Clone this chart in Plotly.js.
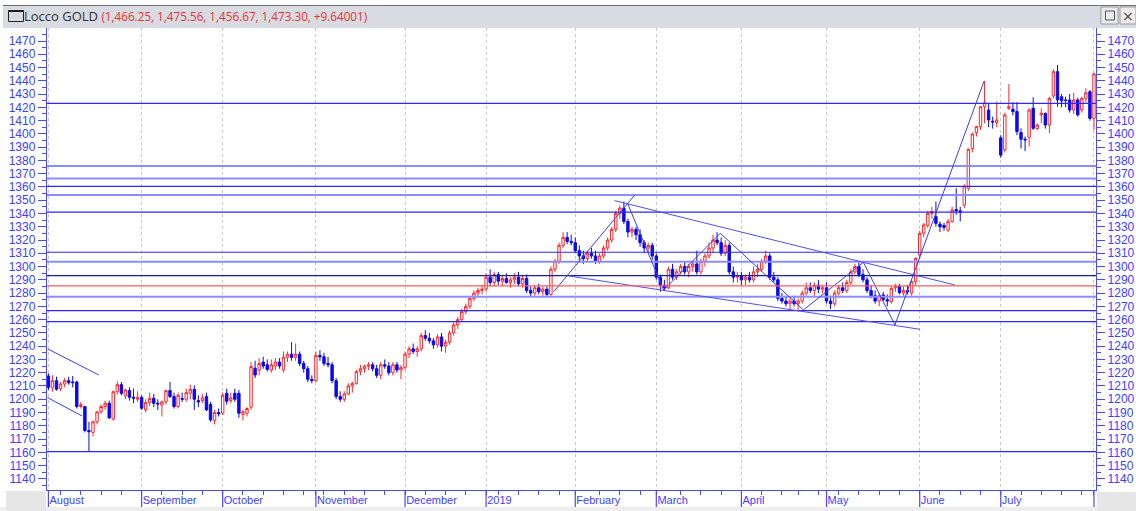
<!DOCTYPE html>
<html><head><meta charset="utf-8">
<script src="https://cdn.plot.ly/plotly-3.0.1.min.js"></script>
<style>html,body{margin:0;padding:0;background:#fff;overflow:hidden}#chart{width:1136px;height:511px}</style>
</head><body><div id="chart"></div>
<script>
// Daily OHLC, Aug 1 2018 .. Aug 1 2019 (trading days)
const open = [
1217.5,1209,1214,1208,1211.5,1214,1213,1213,1194.5,1194.5,1176.5,1175,1183,1190.5,1194.5,1197,1185,1205.7,1211,1202.5,1206.5,1201.5,1200,
1201.5,1192,1197.5,1200.7,1197,1195.7,1198,1206.5,1202,1194.5,1200.5,1200,1204.5,1207.5,1199,1199,1202,1196,1184,1190,
1189.5,1204.5,1199,1204.5,1204.5,1188.5,1189.5,1194,1223.3,1222,1228,1226,1222,1225,1228,1222,1231.6,1234,1231.5,1234,1227,1223,1215,
1214,1233,1232,1227,1226,1214,1202,1200,1204,1210,1212,1221,1223,1225,1226,1223,1218,1226,1225,1220,1226,1222,
1224,1234,1238,1236,1238,1248,1246,1244,1241,1247,1240,1243,1250,1256,1260,1266,1270,1276,1280,1282,
1283,1292,1288,1294,1289,1291,1288,1290,1292,1287,1291,1282,1280,1284,1281,1283,1279,1298,1304,1316,1322,1319,
1318,1312,1308,1306,1310,1308,1304,1308,1314,1320,1328,1340,1344,1334,1326,1328,1324,1318,1314,1316,
1308,1292,1286,1284,1298,1292,1296,1300,1296,1300,1302,1296,1304,1308,1314,1320,1318,1310,1316,1296,1292,
1293,1290,1292,1290,1296,1298,1304,1308,1292,1290,1276,1274,1272,1274,1272,1274,1280,1284,1282,1286,1283,
1284,1274,1272,1280,1284,1282,1288,1296,1300,1294,1290,1282,1278,1274,1278.6,1275,1273.5,1284,1285,1280,1282,1280,1288.6,
1308.7,1325.1,1331,1340,1337.6,1332,1331,1327.6,1334,1343,1342,1346.4,1359,1389,1401,1405.5,1420.5,1418,1409.5,1408.5,
1397,1388,1419.3,1418.5,1416.8,1401,1396,1397.4,1419.3,1404,1414.3,1415.5,1406.7,1428.6,1446.9,1428,1425.6,1425.6,1418,1425.6,1418,1426.8,1431.8,
1411.7];
const high = [
1219.5,1218,1217,1213,1216,1217,1217.5,1214,1198,1195,1183,1184,1191,1196,1199,1199,1206.5,1213.5,1213,1208,1209,1208,1206,
1203,1200,1205,1204,1200,1199,1206,1213,1205,1205,1205,1208,1211,1210.5,1203,1204,1205,1198,1192,1193,
1205,1208,1205,1208,1207,1192,1194,1228,1229,1231,1232,1230,1230,1231,1231,1236,1236,1243,1242,1236,1229,1225,1218,
1236,1237,1235,1232,1228,1216,1206,1206,1212,1213,1222,1226,1226,1228,1228,1226,1228,1230,1228,1228,1228,1226,
1236,1240,1242,1240,1250,1252,1250,1246,1249,1250,1245,1252,1258,1262,1268,1272,1278,1282,1284,1286,
1295,1298,1296,1296,1294,1295,1292,1295,1296,1293,1294,1285,1286,1287,1285,1285,1300,1306,1318,1326,1326,1324,
1322,1316,1312,1312,1314,1312,1310,1316,1322,1330,1342,1346,1349,1336,1330,1330,1328,1320,1318,1318,
1310,1294,1290,1300,1302,1298,1302,1304,1302,1304,1312,1306,1310,1318,1324,1326,1322,1320,1318,1300,1296,
1296,1294,1296,1300,1302,1306,1312,1310,1296,1292,1280,1278,1276,1278,1276,1282,1288,1288,1288,1290,1286,
1288,1278,1282,1286,1288,1290,1298,1302,1304,1298,1292,1286,1282,1280,1281,1279,1285,1287,1287,1285,1286,1290,1307,
1327,1333,1342,1345,1349,1334,1333,1336,1345,1359,1345,1362,1389,1401,1406,1421,1439.9,1423,1413,1424.3,
1399,1416,1437.6,1424,1424,1404.2,1398,1419.3,1427.6,1408,1419.3,1416,1428,1448.7,1451.9,1430,1428,1430,1431,1427,1428,1434.3,1433,
1446];
const low = [
1207,1205.7,1206.5,1206,1209,1211,1209,1193,1193,1175,1161,1172,1181,1189,1192,1185,1184,1203.5,1203,1200,1199,1197,1198,
1192,1190,1195,1194,1192,1187,1196,1201,1193,1193,1198,1198,1200,1192,1194,1197,1191,1183,1181,1187,
1188,1196,1197,1198,1186,1184,1187,1192,1216,1218,1223,1221,1220,1222,1223,1220,1228,1229,1229,1225,1220,1213,1212,
1213,1229,1225,1224,1212,1200,1198,1198,1203,1205,1211,1218,1220,1222,1221,1216,1215,1223,1218,1218,1220,1215,
1222,1231,1234,1232,1236,1244,1242,1238,1239,1236,1235,1241,1248,1253,1258,1264,1268,1274,1277,1279,
1281,1285,1285,1286,1285,1287,1284,1287,1285,1284,1280,1277,1278,1279,1278,1277,1278,1296,1302,1314,1317,1316,
1310,1305,1302,1304,1306,1302,1302,1306,1312,1318,1326,1336,1332,1322,1322,1320,1315,1310,1310,1305,
1290,1281,1282,1283,1290,1290,1294,1294,1292,1296,1294,1294,1300,1306,1310,1316,1308,1308,1294,1288,1288,
1286,1286,1288,1288,1292,1296,1302,1290,1288,1274,1272,1270,1268,1270,1266,1272,1278,1280,1278,1280,1280,
1272,1268,1270,1278,1280,1280,1286,1294,1292,1288,1280,1276,1272,1270,1274,1270,1272,1281,1279,1278,1279,1278,1286,
1306,1322,1329,1336,1330,1326,1327,1326,1333,1339,1334,1344,1357,1386,1398,1403,1408,1405,1404,1405,
1382,1386,1418,1414,1399,1389,1387,1390.4,1403,1403,1408,1404,1400.4,1426.8,1420.5,1420,1420,1416,1415,1413,1416,1424,1410,
1403];
const close = [
1209,1214,1207.5,1211.5,1214,1212.5,1212.5,1194.5,1196,1176.5,1175.5,1183,1190.5,1194.5,1197,1186,1205.7,1211,1204.5,1207,1201.5,1200.8,1201.5,
1193.2,1197.5,1200.7,1197,1196.5,1198,1206.5,1202,1194.5,1203,1200,1205,1207.5,1200,1198,1201,1192,1184.5,1190,1189,
1203,1198.5,1201,1200,1189.5,1190.6,1193,1224.6,1218.3,1227,1225,1222.5,1226,1228,1225,1231.6,1234,1231.5,1234,1227,1223,1215,1214,
1233,1232,1227,1226,1214,1202,1200,1204,1210,1212,1221,1223,1225,1226,1223,1218,1226,1225,1220,1226,1222,1224,
1234,1238,1236,1238,1248,1246,1244,1241,1247,1240,1243,1250,1256,1260,1266,1270,1276,1280,1282,1283,
1292,1288,1294,1289,1291,1288,1290,1292,1287,1291,1282,1280,1284,1281,1283,1279,1298,1304,1316,1322,1319,1318,
1312,1308,1306,1310,1308,1304,1308,1314,1320,1328,1340,1344,1334,1326,1328,1324,1318,1314,1316,1308,
1292,1286,1284,1298,1292,1296,1300,1296,1300,1302,1296,1304,1308,1314,1320,1318,1310,1316,1296,1292,1293,
1290,1292,1290,1296,1298,1304,1308,1292,1290,1276,1274,1272,1274,1272,1274,1280,1284,1282,1286,1283,1284,
1274,1272,1280,1284,1282,1288,1296,1300,1294,1290,1282,1278,1274,1278,1275.3,1274,1283.6,1285,1280.3,1282,1281,1288.6,1306.2,
1325,1331.4,1340,1341.5,1332.6,1330,1329.5,1334,1342.7,1342,1341,1360.7,1388.4,1399.9,1405.5,1420.5,1423.5,1410.5,1409,1410.5,
1384,1414.3,1420.5,1416.8,1401.7,1396,1395.5,1418,1404.2,1406.7,1415.5,1406.7,1426.8,1446.9,1425.6,1425,1425.2,1418,1425.6,1414.3,1426.8,1431,1411.7,
1445.2];

// axis labels
const monthStart  = [0,23,43,66,88,108,130,150,171,192,215,235,258];
const monthLabels = ['August','September','October','November','December','2019','February','March','April','May','June','July',''];
const weekTicks = [3,8,13,18,28,33,38,48,53,58,63,68,73,78,83,93,98,103,111,116,121,126,136,141,146,156,161,166,176,181,185,190,195,200,205,210,220,225,230,240,245,250,255];

// horizontal levels
const blueLevels  = [1423,1360.4,1341,1310.8,1266.8,1258.5,1160.5];
const lightLevels = [1375.8,1366.4,1354,1303.7,1277.3];
const darkLevels  = [1293.2];
const redLevels   = [1285.4];

// trend lines (trading-day index, price)
const tlA_x = [-0.2, 12.4],  tlA_y = [1238, 1218.3];
const tlB_x = [-0.2, 8.3],   tlB_y = [1201.2, 1187.4];
const upper_x = [139.7, 223.7], upper_y = [1349.7, 1286.1];
const lower_x = [128.4, 215.1], lower_y = [1292.9, 1252.7];
const rise_x = [124.7, 144.7],  rise_y = [1281.1, 1354];
const zig_x = [142.9, 151.8, 165.8, 186.3, 201.1, 208.9, 230.9];
const zig_y = [1347.7, 1282.3, 1325.1, 1267.3, 1303.2, 1256, 1439.9];

const X0 = -0.35, X1 = 258.5;
const x = close.map((_, i) => i);

function levelTrace(levels, color, width, yaxis) {
  const xs = [], ys = [];
  levels.forEach(v => { xs.push(X0, X1, null); ys.push(v, v, null); });
  return {type:'scatter', mode:'lines', x:xs, y:ys, yaxis:yaxis||'y',
    line:{color:color, width:width}, hoverinfo:'skip', showlegend:false};
}
function lineTrace(xs, ys, color) {
  return {type:'scatter', mode:'lines', x:xs, y:ys, line:{color:color||'rgb(60,60,235)', width:1},
    hoverinfo:'skip', showlegend:false, cliponaxis:true};
}

const traces = [
  levelTrace(lightLevels, 'rgb(140,140,255)', 2),
  levelTrace(blueLevels, 'rgb(40,40,255)', 1.2),
  levelTrace(darkLevels, 'rgb(30,30,150)', 1.2),
  levelTrace(redLevels, 'rgb(255,90,90)', 1.2, 'y2'),
  lineTrace(tlA_x, tlA_y), lineTrace(tlB_x, tlB_y),
  lineTrace(upper_x, upper_y, 'rgb(80,80,235)'), lineTrace(lower_x, lower_y, 'rgb(80,80,235)'),
  lineTrace(rise_x, rise_y), lineTrace(zig_x, zig_y),
  {type:'candlestick', x:x, open:open, high:high, low:low, close:close,
   increasing:{line:{color:'rgb(255,40,40)', width:1}, fillcolor:'#ffffff'},
   decreasing:{line:{color:'rgb(10,10,235)', width:1}, fillcolor:'rgb(10,10,235)'},
   whiskerwidth:0, hoverinfo:'skip', showlegend:false}
];

const PX = px => (px - 47) / 1049;
const PY = py => (490 - py) / 462;
const AX = 'rgb(72,72,255)';
const TXT = 'rgb(64,64,255)';

const shapes = [
  {type:'rect', xref:'paper', yref:'paper', x0:PX(3), x1:PX(1136), y0:PY(28), y1:PY(5), fillcolor:'rgb(216,220,226)', line:{width:0}, layer:'below'},
  {type:'line', xref:'paper', yref:'paper', x0:PX(3), x1:PX(1136), y0:PY(5.5), y1:PY(5.5), line:{color:'#6e6e6e', width:1}},
  {type:'rect', xref:'paper', yref:'paper', x0:PX(8.5), x1:PX(23.5), y0:PY(21.5), y1:PY(10.5), line:{color:'#222', width:1}},
  {type:'line', xref:'paper', yref:'paper', x0:PX(8.5), x1:PX(23.5), y0:PY(11), y1:PY(11), line:{color:'#222', width:2}},
  {type:'rect', xref:'paper', yref:'paper', x0:PX(1101), x1:PX(1118), y0:PY(24), y1:PY(7), fillcolor:'#ececec', line:{color:'#9a9a9a', width:1}},
  {type:'rect', xref:'paper', yref:'paper', x0:PX(1105.5), x1:PX(1114.5), y0:PY(20), y1:PY(11), line:{color:'#555', width:1}},
  {type:'rect', xref:'paper', yref:'paper', x0:PX(1120), x1:PX(1136), y0:PY(24), y1:PY(7), fillcolor:'#ececec', line:{color:'#9a9a9a', width:1}},
  {type:'rect', xref:'paper', yref:'paper', x0:PX(0), x1:PX(1136), y0:PY(511), y1:PY(507), fillcolor:'#eeeeee', line:{width:0}, layer:'below'},
  {type:'rect', xref:'paper', yref:'paper', x0:PX(6), x1:PX(46), y0:PY(511), y1:PY(491), fillcolor:'#e6e6e6', line:{width:0}, layer:'below'},
  {type:'rect', xref:'paper', yref:'paper', x0:PX(1097), x1:PX(1136), y0:PY(511), y1:PY(492), fillcolor:'#e6e6e6', line:{width:0}, layer:'below'}
];
monthStart.forEach(m => shapes.push({type:'line', xref:'x', yref:'paper', x0:m, x1:m, y0:0, y1:PY(507), line:{color:AX, width:1.2}}));

const yBase = {
  range:[1131.6, 1479.8], tickmode:'linear', tick0:1140, dtick:10,
  ticks:'outside', ticklen:8, tickwidth:1, tickcolor:AX,
  showline:true, linecolor:AX, linewidth:1.2, showgrid:false, zeroline:false,
  tickfont:{family:'Liberation Sans, Arial, sans-serif', size:12, color:TXT},
  minor:{tick0:1135, dtick:5, ticks:'outside', ticklen:4, tickcolor:AX, showgrid:false},
  fixedrange:true
};

const layout = {
  width:1136, height:511,
  margin:{l:47, r:40, t:28, b:21, pad:0},
  paper_bgcolor:'#ffffff', plot_bgcolor:'#ffffff',
  showlegend:false, hovermode:false, dragmode:false,
  boxgap:0.15,
  title:{text:'Locco GOLD <span style="color:rgb(232,50,50);font-size:11.7px">(1,466.25, 1,475.56, 1,456.67, 1,473.30, +9.64001)</span>',
    xref:'container', yref:'container', x:24/1136, xanchor:'left', y:1-16.5/511, yanchor:'middle',
    font:{family:'Open Sans, Noto Sans, sans-serif', size:13, color:'#303030'}},
  xaxis:{
    range:[X0, X1], tickmode:'array', tickvals:monthStart, ticktext:monthLabels,
    ticks:'outside', ticklen:4, tickcolor:AX, ticklabelposition:'outside right',
    tickfont:{family:'Liberation Sans, Arial, sans-serif', size:11, color:TXT},
    showline:true, linecolor:AX, linewidth:1.2, zeroline:false,
    showgrid:true, gridcolor:'rgb(200,200,200)', griddash:'dot', gridwidth:1,
    minor:{tickmode:'array', tickvals:weekTicks, ticks:'outside', ticklen:4, tickcolor:AX, showgrid:false},
    rangeslider:{visible:false}, fixedrange:true
  },
  yaxis:Object.assign({}, yBase, {side:'left'}),
  yaxis2:Object.assign({}, yBase, {side:'right', overlaying:'y'}),
  shapes:shapes,
  annotations:[
    {xref:'paper', yref:'paper', x:PX(1128), y:PY(15.5), text:'×', showarrow:false,
     font:{family:'DejaVu Sans, sans-serif', size:14, color:'#444'}, xanchor:'center', yanchor:'middle'}
  ]
};

Plotly.newPlot('chart', traces, layout, {displayModeBar:false, staticPlot:true});
</script>
</body></html>
